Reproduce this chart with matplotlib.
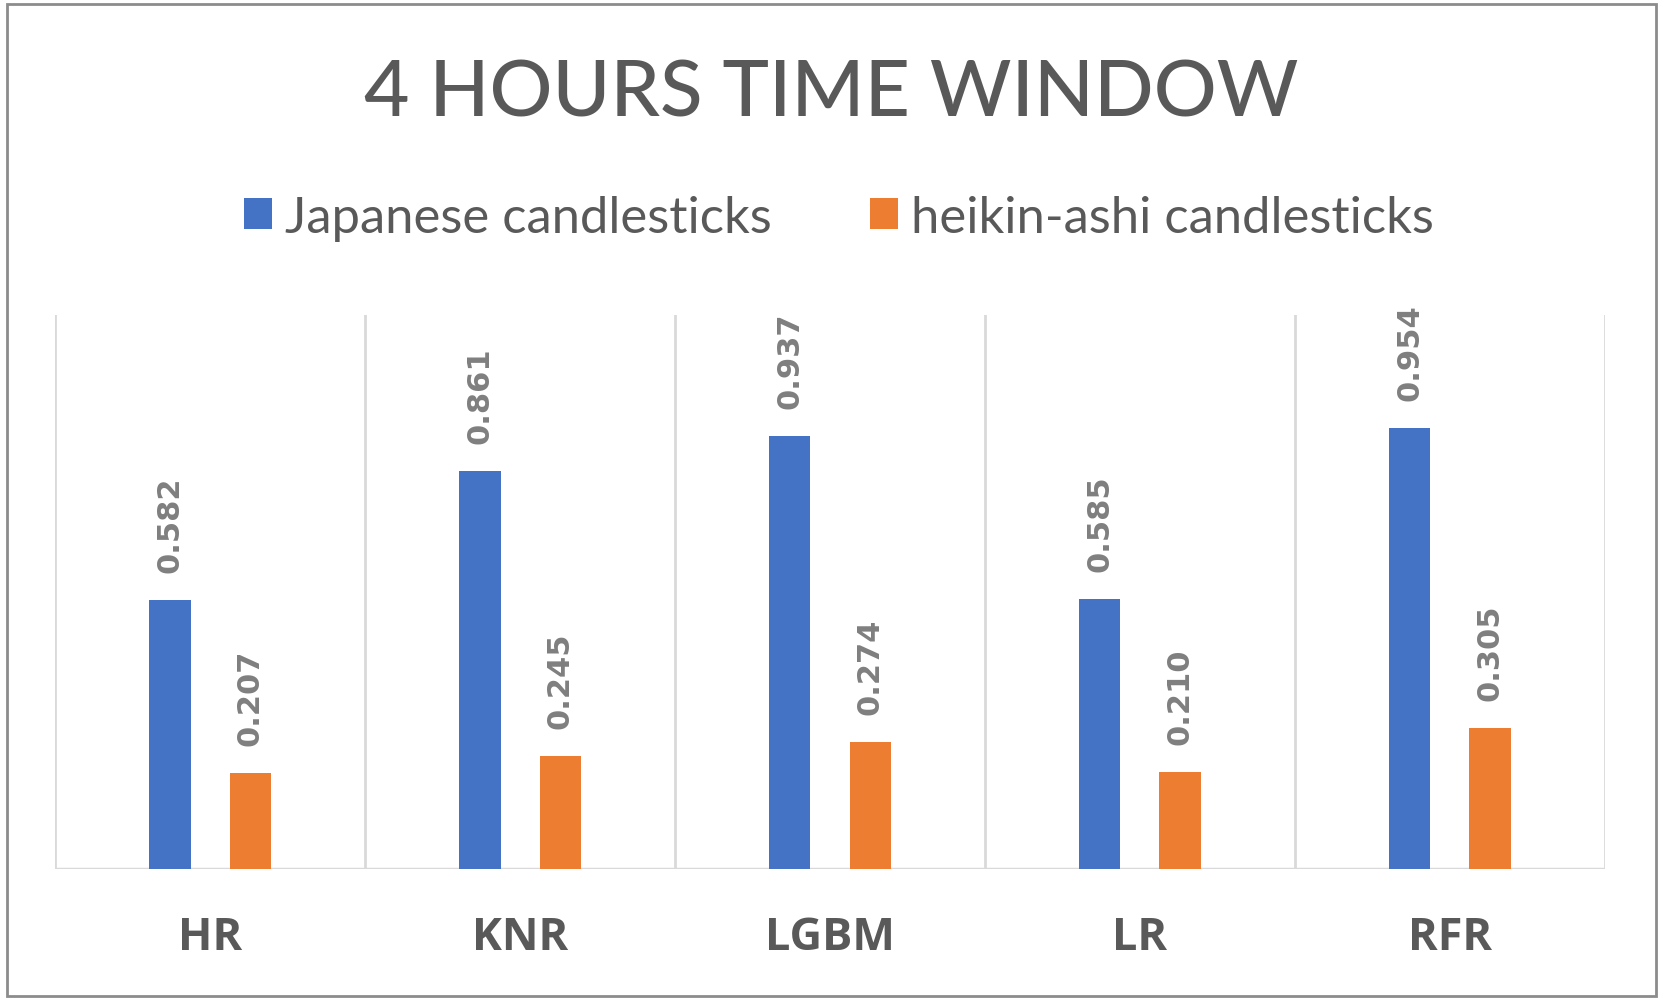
import matplotlib
matplotlib.use("Agg")
import matplotlib.pyplot as plt
import numpy as np
from matplotlib.patches import Rectangle

categories = ["HR", "KNR", "LGBM", "LR", "RFR"]
japanese = [0.582, 0.861, 0.937, 0.585, 0.954]
heikin = [0.207, 0.245, 0.274, 0.210, 0.305]
series_names = ["Japanese candlesticks", "heikin-ashi candlesticks"]
title = "4 HOURS TIME WINDOW"

BLUE = "#4472C4"
ORANGE = "#ED7D31"
DARK = "#595959"
LABEL = "#7F7F7F"
GRID = "#D9D9D9"

fig = plt.figure(figsize=(16.63, 10.03), dpi=100)
fig.patch.set_facecolor("white")

# outer chart border
fig.add_artist(Rectangle((0.004, 0.006), 0.992, 0.989, transform=fig.transFigure,
                         fill=False, edgecolor="#8C8C8C", linewidth=2))

ax = fig.add_axes([0.0332, 0.1329, 0.9318, 0.5521])
x = np.arange(len(categories))
w = 0.134
off = 0.13
b1 = ax.bar(x - off, japanese, w, color=BLUE, zorder=3)
b2 = ax.bar(x + off, heikin, w, color=ORANGE, zorder=3)

ax.set_xlim(-0.5, len(categories) - 0.5)
ax.set_ylim(0, 1.2)
for s in ax.spines.values():
    s.set_visible(False)
ax.axhline(0, color=GRID, linewidth=2.5, zorder=2)
for b in np.arange(len(categories) + 1) - 0.5:
    ax.axvline(b, color=GRID, linewidth=2, zorder=1)
ax.set_yticks([])
ax.set_xticks(x)
ax.set_xticklabels(categories, fontsize=32.5, fontweight="bold",
                   color=DARK, family=["Open Sans", "DejaVu Sans"])
ax.tick_params(axis="x", length=0, pad=33)

for bars, vals in ((b1, japanese), (b2, heikin)):
    for r, v in zip(bars, vals):
        ax.annotate(f"{v:.3f}", (r.get_x() + r.get_width() / 2, v),
                    xytext=(0, 28), textcoords="offset pixels",
                    rotation=90, ha="center", va="bottom",
                    fontsize=22, fontweight="bold", color=LABEL,
                    family="DejaVu Sans")

fig.text(0.5, 0.905, title, ha="center", va="center",
         fontsize=56.5, fontweight="medium", color=DARK, family=["Lato", "DejaVu Sans"])

# legend
leg = fig.legend([b1, b2], series_names, loc="center", bbox_to_anchor=(0.5045, 0.782),
                 ncol=2, frameon=False,
                 handlelength=0.55, handleheight=0.55, handletextpad=0.26,
                 columnspacing=1.95, prop={"family": "Lato", "size": 36.5})
for t in leg.get_texts():
    t.set_color(DARK)

fig.savefig("out.png", dpi=100, facecolor="white")
